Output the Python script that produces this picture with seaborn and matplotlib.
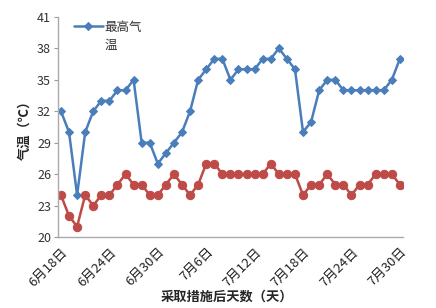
import matplotlib
matplotlib.use("Agg")
import matplotlib.pyplot as plt
import seaborn as sns
import pandas as pd
import numpy as np

dates = pd.date_range("2000-06-18", "2000-07-30", freq="D")
date_labels = [f"{d.month}月{d.day}日" for d in dates]

max_temp = [32, 30, 24, 30, 32, 33, 33, 34, 34, 35,
            29, 29, 27, 28, 29, 30, 32, 35, 36, 37,
            37, 35, 36, 36, 36, 37, 37, 38, 37, 36,
            30, 31, 34, 35, 35, 34, 34, 34, 34, 34,
            34, 35, 37]
min_temp = [24, 22, 21, 24, 23, 24, 24, 25, 26, 25,
            25, 24, 24, 25, 26, 25, 24, 25, 27, 27,
            26, 26, 26, 26, 26, 26, 27, 26, 26, 26,
            24, 25, 25, 26, 25, 25, 24, 25, 25, 26,
            26, 26, 25]
y_ticks = [20, 23, 26, 29, 32, 35, 38, 41]
series_label = "最高气\n温"
x_title = "采取措施后天数（天）"
y_title = "气温（℃）"

sns.set_theme(style="white")
plt.rcParams['font.family'] = ['Noto Sans CJK SC', 'DejaVu Sans']

df = pd.DataFrame({"idx": np.arange(len(dates)), "max": max_temp, "min": min_temp})

fig = plt.figure(figsize=(4.36, 3.08), dpi=100)
ax = fig.add_axes([0.133, 0.2305, 0.791, 0.7145])

blue = "#4A7EBB"
red = "#BE4B48"
sns.lineplot(data=df, x="idx", y="max", ax=ax, color=blue, marker="D", markersize=4.5,
             markeredgecolor=blue, linewidth=1.8, label=series_label)
sns.lineplot(data=df, x="idx", y="min", ax=ax, color=red, marker="o", markersize=6,
             markeredgecolor=red, linewidth=1.8, label="_nolegend_")

ax.set_xlim(-0.37, len(dates) - 1 + 0.37)
ax.set_ylim(20, 41)
ax.set_yticks(y_ticks)
ax.set_yticklabels([str(v) for v in y_ticks], fontsize=9, color="#333333")
tick_pos = list(range(0, len(dates), 6))
ax.set_xticks(tick_pos)
ax.set_xticklabels([date_labels[i] for i in tick_pos], rotation=45, ha="right",
                   rotation_mode="anchor", fontsize=9.5, color="#222222")
ax.tick_params(axis="y", length=3, width=0.8, color="#999999", direction="out", left=True, pad=2)
ax.tick_params(axis="x", length=0, pad=6)

for s in ["top", "right"]:
    ax.spines[s].set_visible(False)
for s in ["left", "bottom"]:
    ax.spines[s].set_color("#AAAAAA")
    ax.spines[s].set_linewidth(1.0)

ax.set_xlabel(x_title, fontsize=9.5, fontweight="bold", labelpad=0)
ax.set_ylabel(y_title, fontsize=9.5, fontweight="bold", labelpad=4)
ax.xaxis.set_label_coords(0.49, -0.24)

leg = ax.legend(loc="upper left", bbox_to_anchor=(0.025, 1.015), frameon=False,
                fontsize=9, handlelength=2.3, handletextpad=0.15, borderaxespad=0.2,
                labelspacing=0.3)
for t in leg.get_texts():
    t.set_color("#333333")
    t.set_linespacing(1.5)
try:
    for col in leg._legend_handle_box.get_children():
        for item in col.get_children():
            item.align = "top"
except Exception:
    pass

fig.savefig("out.png", dpi=100, facecolor="white")
